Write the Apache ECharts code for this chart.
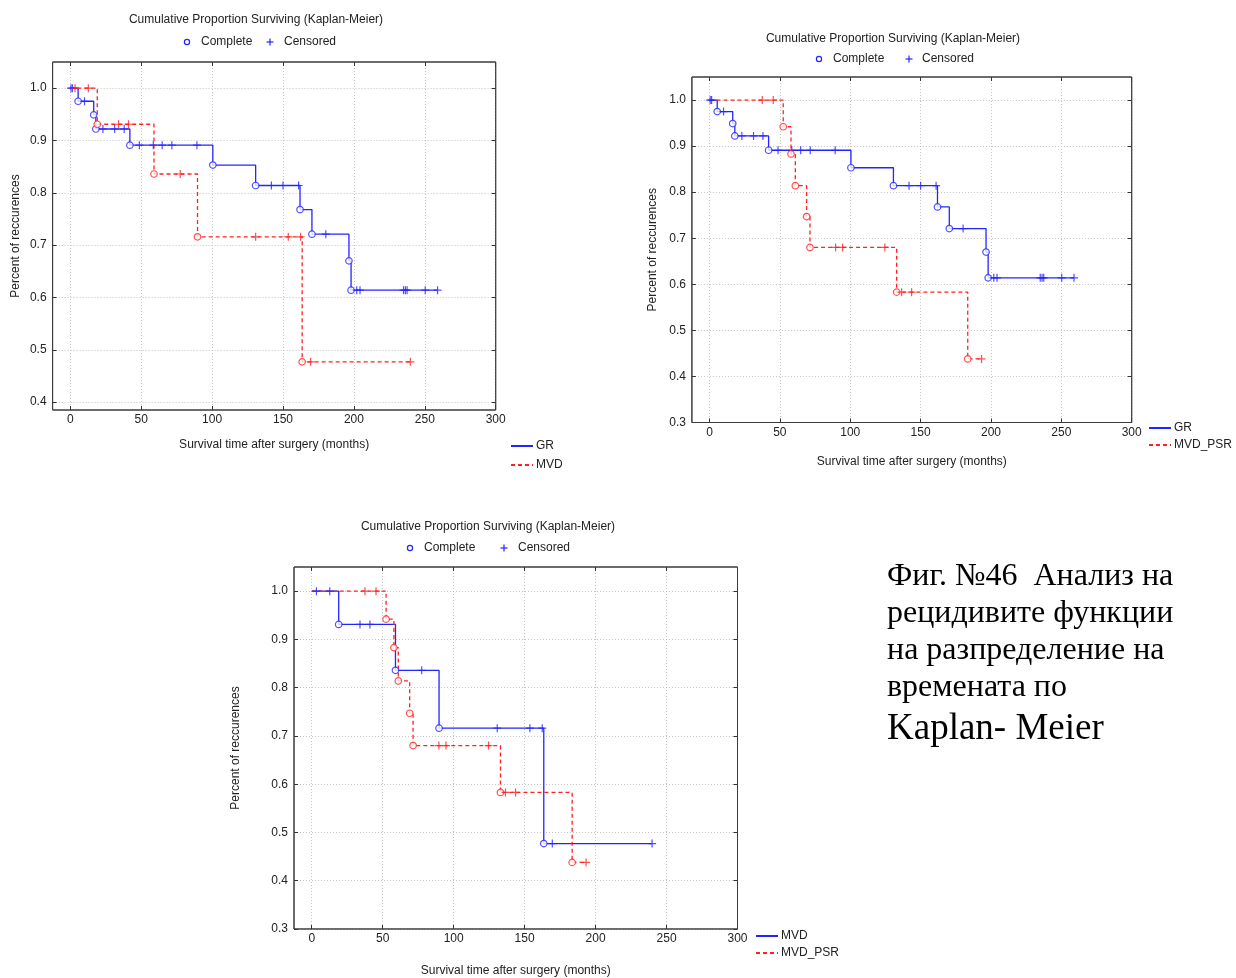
<!DOCTYPE html>
<html>
<head>
<meta charset="utf-8">
<script src="https://cdn.jsdelivr.net/npm/echarts@6/dist/echarts.min.js"></script>
<style>
  html, body { margin: 0; padding: 0; background: #fff; }
  #chart { width: 1236px; height: 978px; }
</style>
</head>
<body>
<div id="chart"></div>
<script>
// Axis tick values
const xTickValues = [0, 50, 100, 150, 200, 250, 300];
const yTicksUpper = [0.4, 0.5, 0.6, 0.7, 0.8, 0.9, 1.0];
const yTicksLower = [0.3, 0.4, 0.5, 0.6, 0.7, 0.8, 0.9, 1.0];

// Kaplan-Meier estimates: [event time (months), survival after the event]
const grEvents = [[5.5, 0.975], [16.5, 0.949], [18, 0.922], [42, 0.891], [100.5, 0.853],
                  [130.7, 0.814], [162, 0.768], [170.4, 0.721], [196.5, 0.670], [198, 0.614]];
const grCensored = [0.5, 1.5, 10, 23, 31.3, 38, 48.7, 58.5, 64.8, 71.6, 89.3, 141.8, 150, 161,
                    180.2, 202, 204.3, 235, 236.3, 237.5, 250.3, 259];

const mvdEvents = [[19, 0.931], [59, 0.836], [89.7, 0.716], [163.5, 0.477]];
const mvdCensored = [3.3, 12.7, 34, 41, 77.5, 130.7, 153.7, 162.4, 169.5, 239.8];

const psrEvents = [[52.4, 0.942], [57.9, 0.883], [61, 0.814], [69, 0.747], [71.4, 0.680],
                   [133, 0.583], [183.5, 0.438]];
const psrCensored = [37.5, 45.3, 89.6, 94.6, 124.6, 136.5, 143.6, 193.3];

const BLUE = '#2424ff';
const RED = '#ff2222';
const SANS = '"Liberation Sans", Arial, sans-serif';
const TXT = '#222';
const FRAME = '#3a3a3a';

function levelAt(events, t) {
  let s = 1;
  for (const [et, es] of events) if (et <= t) s = es;
  return s;
}
function stepPoints(events, censored) {
  const pts = [[0, 1]].concat(events.map(e => [e[0], e[1]]));
  const last = events[events.length - 1];
  const tEnd = Math.max(last[0], ...censored);
  pts.push([tEnd, levelAt(events, tEnd)]);
  return pts;
}

const panels = [
  { grid: { left: 52.6, top: 62, width: 443.1, height: 348 }, yMin: 0.385, yTicks: yTicksUpper,
    xGap: 29, yGap: 31,
    blue: { name: 'GR', events: grEvents, censored: grCensored },
    red: { name: 'MVD', events: mvdEvents, censored: mvdCensored },
    legend: { left: 510, top: 440, itemHeight: 12, itemGap: 7 } },
  { grid: { left: 691.9, top: 77, width: 439.8, height: 345.5 }, yMin: 0.3, yTicks: yTicksLower,
    xGap: 33, yGap: 33,
    blue: { name: 'GR', events: grEvents, censored: grCensored },
    red: { name: 'MVD_PSR', events: psrEvents, censored: psrCensored },
    legend: { left: 1148, top: 422, itemHeight: 12, itemGap: 5 } },
  { grid: { left: 294, top: 567, width: 443.5, height: 362 }, yMin: 0.3, yTicks: yTicksLower,
    xGap: 36, yGap: 52,
    blue: { name: 'MVD', events: mvdEvents, censored: mvdCensored },
    red: { name: 'MVD_PSR', events: psrEvents, censored: psrCensored },
    legend: { left: 755, top: 930, itemHeight: 12, itemGap: 5 } }
];

const labelStyle = { fontFamily: SANS, fontSize: 12, color: TXT };
const tickLine = { color: '#333', width: 1 };
const gridLine = { color: '#c4c4c4', type: [1, 2], width: 1 };
const noLine = { show: false, onZero: false };

const grids = [], xAxes = [], yAxes = [], series = [], legends = [], graphics = [];

panels.forEach((p, i) => {
  grids.push(Object.assign({ show: true, borderColor: FRAME, borderWidth: 1, backgroundColor: '#fff' }, p.grid));
  // plot frame drawn above the dotted grid lines
  graphics.push({ type: 'rect', silent: true, z: 100,
    shape: { x: p.grid.left, y: p.grid.top, width: p.grid.width, height: p.grid.height },
    style: { fill: 'none', stroke: FRAME, lineWidth: 1 } });

  xAxes.push({
    gridIndex: i, type: 'value', min: -12.5, max: 300, position: 'bottom',
    name: 'Survival time after surgery (months)', nameLocation: 'middle', nameGap: p.xGap,
    nameTextStyle: labelStyle,
    axisLine: noLine,
    axisTick: { inside: true, length: 4, customValues: xTickValues, lineStyle: tickLine },
    axisLabel: Object.assign({ customValues: xTickValues, margin: 4 }, labelStyle),
    splitLine: { show: true, lineStyle: gridLine }
  });
  xAxes.push({
    gridIndex: i, type: 'value', min: -12.5, max: 300, position: 'top',
    axisLine: noLine,
    axisTick: { inside: true, length: 4, customValues: xTickValues, lineStyle: tickLine },
    axisLabel: { show: false, customValues: xTickValues },
    splitLine: { show: false }
  });
  yAxes.push({
    gridIndex: i, type: 'value', min: p.yMin, max: 1.05, position: 'left',
    name: 'Percent of reccurences', nameLocation: 'middle', nameGap: p.yGap,
    nameTextStyle: labelStyle,
    axisLine: noLine,
    axisTick: { inside: true, length: 4, customValues: p.yTicks, lineStyle: tickLine },
    axisLabel: Object.assign({ customValues: p.yTicks, margin: 6, formatter: v => v.toFixed(1) }, labelStyle),
    splitLine: { show: true, lineStyle: gridLine }
  });
  yAxes.push({
    gridIndex: i, type: 'value', min: p.yMin, max: 1.05, position: 'right',
    axisLine: noLine,
    axisTick: { inside: true, length: 4, customValues: p.yTicks, lineStyle: tickLine },
    axisLabel: { show: false, customValues: p.yTicks },
    splitLine: { show: false }
  });

  const xi = i * 2, yi = i * 2;
  [[p.blue, BLUE, 'solid'], [p.red, RED, [4, 3]]].forEach(([g, color, type]) => {
    series.push({
      type: 'line', name: g.name + '|' + i, xAxisIndex: xi, yAxisIndex: yi,
      step: 'end', symbol: 'none', showSymbol: false, silent: true,
      lineStyle: { color, width: 1.3, type }, itemStyle: { color },
      data: stepPoints(g.events, g.censored), z: 2
    });
  });
  [[p.blue, BLUE], [p.red, RED]].forEach(([g, color]) => {
    series.push({
      type: 'scatter', name: 'complete-' + g.name + '|' + i, xAxisIndex: xi, yAxisIndex: yi,
      symbol: 'circle', symbolSize: 6.5, silent: true,
      itemStyle: { color: '#fff', borderColor: color, borderWidth: 1.2 },
      data: g.events.map(e => [e[0], e[1]]), z: 4
    });
    series.push({
      type: 'scatter', name: 'censored-' + g.name + '|' + i, xAxisIndex: xi, yAxisIndex: yi,
      symbol: 'path://M0,5L10,5M5,0L5,10', symbolSize: 8, silent: true,
      itemStyle: { color: 'none', borderColor: color, borderWidth: 1.2 },
      data: g.censored.map(t => [t, levelAt(g.events, t)]), z: 4
    });
  });

  // series key: line sample only, no marker
  legends.push(Object.assign({
    orient: 'vertical', itemWidth: 22, padding: 0, selectedMode: false,
    data: [p.blue.name + '|' + i, p.red.name + '|' + i],
    formatter: n => n.split('|')[0],
    itemStyle: { color: 'transparent', borderColor: 'transparent', borderWidth: 0, opacity: 0 },
    textStyle: { fontFamily: SANS, fontSize: 12, color: TXT, padding: [0, 0, 0, -2] }
  }, p.legend));
});

// Titles and marker keys above each panel
const headers = [
  { cx: 256, ty: 20, ly: 42, circ: 187, comp: 201, plus: 270, cens: 284 },
  { cx: 893, ty: 39, ly: 59, circ: 819, comp: 833, plus: 909, cens: 922 },
  { cx: 488, ty: 527, ly: 548, circ: 410, comp: 424, plus: 504, cens: 518 }
];
headers.forEach(h => {
  graphics.push({ type: 'text', x: h.cx, y: h.ty, silent: true,
    style: { text: 'Cumulative Proportion Surviving (Kaplan-Meier)', font: '12px ' + SANS, fill: TXT, align: 'center', verticalAlign: 'middle' } });
  graphics.push({ type: 'circle', silent: true, shape: { cx: h.circ, cy: h.ly, r: 2.6 },
    style: { fill: '#fff', stroke: BLUE, lineWidth: 1.2 } });
  graphics.push({ type: 'text', x: h.comp, y: h.ly, silent: true,
    style: { text: 'Complete', font: '12px ' + SANS, fill: TXT, align: 'left', verticalAlign: 'middle' } });
  graphics.push({ type: 'line', silent: true, shape: { x1: h.plus - 3.5, y1: h.ly, x2: h.plus + 3.5, y2: h.ly }, style: { stroke: BLUE, lineWidth: 1.2 } });
  graphics.push({ type: 'line', silent: true, shape: { x1: h.plus, y1: h.ly - 3.5, x2: h.plus, y2: h.ly + 3.5 }, style: { stroke: BLUE, lineWidth: 1.2 } });
  graphics.push({ type: 'text', x: h.cens, y: h.ly, silent: true,
    style: { text: 'Censored', font: '12px ' + SANS, fill: TXT, align: 'left', verticalAlign: 'middle' } });
});

// Figure caption
const SERIF = '"Liberation Serif", "Times New Roman", serif';
const captionLines = [
  ['Фиг. №46  Анализ на', 577, 32],
  ['рецидивите функции', 614, 32],
  ['на разпределение на', 651, 32],
  ['времената по', 688, 32],
  ['Kaplan- Meier', 729, 37]
];
captionLines.forEach(([text, y, size]) => {
  graphics.push({ type: 'text', x: 887, y, silent: true,
    style: { text, font: size + 'px ' + SERIF, fill: '#000', align: 'left', verticalAlign: 'middle' } });
});

const chart = echarts.init(document.getElementById('chart'), null, { renderer: 'canvas' });
chart.setOption({
  animation: false,
  backgroundColor: '#fff',
  grid: grids,
  xAxis: xAxes,
  yAxis: yAxes,
  legend: legends,
  series,
  graphic: graphics
});
</script>
</body>
</html>
